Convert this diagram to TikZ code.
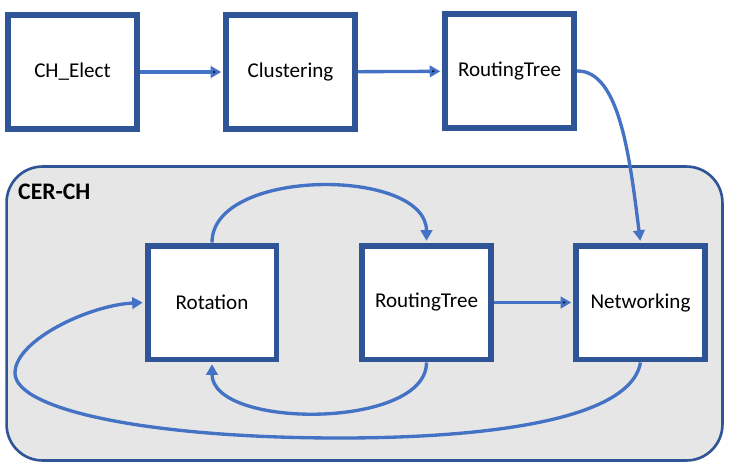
\documentclass[tikz,border=0pt]{standalone}
\usepackage{fontspec}
\setmainfont{Carlito}
\usetikzlibrary{arrows.meta}
\definecolor{boxblue}{HTML}{2F5597}
\definecolor{arrowblue}{HTML}{4472C4}
\definecolor{groupgrey}{HTML}{E7E6E6}
\tikzset{
	stagebox/.style={shape=rectangle,draw=boxblue,line width=3.4pt,fill=white,minimum width=2.58cm,minimum height=2.28cm,font=\fontsize{12}{14}\selectfont},
	groupbox/.style={shape=rectangle,draw=boxblue,line width=1.5pt,fill=groupgrey,rounded corners=0.72cm,minimum width=14.32cm,minimum height=5.88cm},
	flow/.style={draw=arrowblue,line width=1.9pt,-{Triangle[length=6pt,width=6.5pt]},shorten >=1pt},
}
\begin{document}
\begin{tikzpicture}[x=0.02cm,y=0.02cm]
	\useasboundingbox (0,0) rectangle (736,-474);
	
	\node[groupbox] (cerch) at (364.5,-313.5) {};
	\node[anchor=west,font=\bfseries\fontsize{13.5}{16}\selectfont] (cerchlabel) at (12,-192) {CER-CH};
	
	\node[stagebox] (elect) at (72.5,-72)     {CH\_Elect};
	\node[stagebox] (clust) at (290.5,-72)    {Clustering};
	\node[stagebox] (tree)  at (509.5,-71)    {RoutingTree};
	\node[stagebox] (rot)   at (212,-302.5)   {Rotation};
	\node[stagebox] (tree2) at (426.5,-302.5) {RoutingTree};
	\node[stagebox] (net)   at (640.5,-302.5) {Networking};
	\coordinate (loopa) at (340,-438);
	\coordinate (loopb) at (15,-373);
	
	\path[flow] (elect) edge (clust);
	\path[flow] (clust) edge (tree);
	\path[flow] (tree2) edge (net);
	\draw[flow] (tree.east) .. controls (620,-70) and (630,-160) .. (net.north);
	\draw[flow] (rot.north) to[out=90,in=90,looseness=0.9] (tree2.north);
	\draw[flow] (tree2.south) to[out=-90,in=-90,looseness=0.8] (rot.south);
	\draw[flow] (net.south) to[out=-100,in=0,looseness=0.6] (loopa) .. controls (150,-438) and (15,-410) .. (loopb) .. controls (15,-340) and (90,-305) .. (rot.west);
\end{tikzpicture}
\end{document}
